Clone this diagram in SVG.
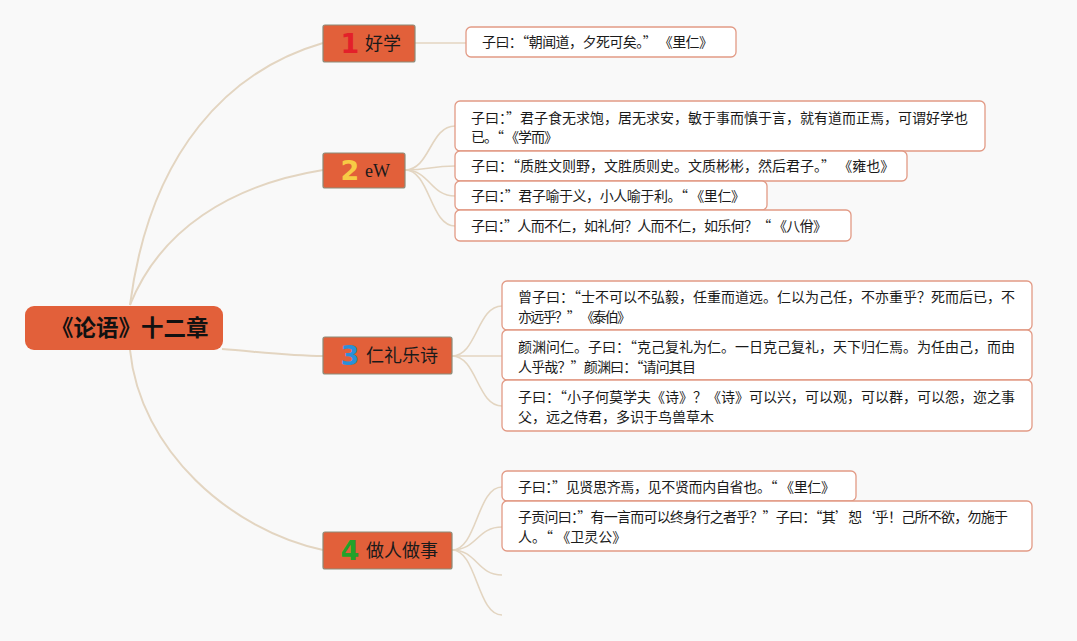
<svg xmlns="http://www.w3.org/2000/svg" width="1077" height="641" viewBox="0 0 1077 641">
<style>
.bg{fill:#f9f9f9}
.main{fill:none;stroke:#e3d5c1;stroke-width:2}
.sub{fill:none;stroke:#e3d5c1;stroke-width:1.6}
.root{fill:#e2603a}
.roott{font-family:"Noto Sans CJK SC","Noto Sans",sans-serif;font-size:22.5px;font-weight:bold;fill:#111}
.br{fill:#e2603a;stroke:#8c8b78;stroke-width:1.2}
.brt{font-family:"Noto Sans CJK SC","Noto Sans",sans-serif;font-size:18px;fill:#1a1a1a}
.num{font-family:"DejaVu Sans","Liberation Sans",sans-serif;font-size:27px;font-weight:bold;text-anchor:middle}
.leaf{fill:#ffffff;stroke:#e29a85;stroke-width:1.3}
.lt{font-family:"Noto Sans CJK SC","Noto Sans",sans-serif;font-size:14px;fill:#1a1a1a}
</style>
<rect class="bg" x="0" y="0" width="1077" height="641"/>
<g id="connectors">
<path class="main" d="M130,305 C150,150 230,70 323,43"/>
<path class="main" d="M130,305 C160,230 230,185 323,170"/>
<path class="main" d="M222,349 C260,352 290,356 323,356"/>
<path class="main" d="M130,350 C140,450 230,530 323,550"/>
<path class="sub" d="M415,43 L466,43"/>
<path class="sub" d="M405,170 C430,170 430,126 455,126"/>
<path class="sub" d="M405,170 C430,170 430,166 455,166"/>
<path class="sub" d="M405,170 C430,170 430,196 455,196"/>
<path class="sub" d="M405,170 C430,170 430,226 455,226"/>
<path class="sub" d="M452,356 C477,356 477,306 502,306"/>
<path class="sub" d="M452,356 L502,356"/>
<path class="sub" d="M452,356 C477,356 477,406 502,406"/>
<path class="sub" d="M452,550 C477,550 477,487 502,487"/>
<path class="sub" d="M452,550 C477,550 477,527 502,527"/>
<path class="sub" d="M452,550 C477,550 477,575 502,575"/>
<path class="sub" d="M452,550 C477,550 477,615 502,615"/>
</g>
<g id="root">
<rect class="root" x="25" y="306" width="198" height="44" rx="9"/>
<text class="roott" x="51" y="336">《论语》十二章</text>
</g>
<g id="b1">
<rect class="br" x="323" y="25" width="92" height="37" rx="2"/>
<text class="num" x="350" y="53" fill="#e3202a">1</text>
<text class="brt" x="365" y="50">好学</text>
</g>
<g id="b2">
<rect class="br" x="323" y="153" width="82" height="35" rx="2"/>
<text class="num" x="350" y="180" fill="#f7cb45">2</text>
<text x="365" y="177" style="font-family:'Liberation Serif',serif;font-size:18px;fill:#1a1a1a">eW</text>
</g>
<g id="b3">
<rect class="br" x="323" y="337" width="129" height="37" rx="2"/>
<text class="num" x="350" y="365" fill="#2a90d8">3</text>
<text class="brt" x="366" y="362">仁礼乐诗</text>
</g>
<g id="b4">
<rect class="br" x="323" y="532" width="129" height="37" rx="2"/>
<text class="num" x="350" y="560" fill="#23a12a">4</text>
<text class="brt" x="366" y="557">做人做事</text>
</g>
<g id="l1">
<rect class="leaf" x="466" y="27" width="270" height="30" rx="5"/>
<text class="lt" x="482" y="47" textLength="231">子曰：“朝闻道，夕死可矣。” 《里仁》</text>
</g>
<g id="l2a">
<rect class="leaf" x="455" y="101" width="530" height="50" rx="5"/>
<text class="lt" x="471" y="123">子曰：”君子食无求饱，居无求安，敏于事而慎于言，就有道而正焉，可谓好学也</text>
<text class="lt" x="471" y="142" textLength="87">已。“ 《学而》</text>
</g>
<g id="l2b">
<rect class="leaf" x="455" y="151" width="452" height="30" rx="5"/>
<text class="lt" x="471" y="171">子曰：“质胜文则野，文胜质则史。文质彬彬，然后君子。” 《雍也》</text>
</g>
<g id="l2c">
<rect class="leaf" x="455" y="181" width="312" height="29" rx="5"/>
<text class="lt" x="471" y="201" textLength="274">子曰：”君子喻于义，小人喻于利。“ 《里仁》</text>
</g>
<g id="l2d">
<rect class="leaf" x="455" y="210" width="396" height="31" rx="5"/>
<text class="lt" x="471" y="231" textLength="356">子曰：”人而不仁，如礼何？人而不仁，如乐何？“ 《八佾》</text>
</g>
<g id="l3a">
<rect class="leaf" x="502" y="281" width="530" height="49" rx="5"/>
<text class="lt" x="518" y="302">曾子曰：“士不可以不弘毅，任重而道远。仁以为己任，不亦重乎？死而后已，不</text>
<text class="lt" x="518" y="322" textLength="113">亦远乎？” 《泰伯》</text>
</g>
<g id="l3b">
<rect class="leaf" x="502" y="330" width="530" height="50" rx="5"/>
<text class="lt" x="518" y="352">颜渊问仁。子曰：“克己复礼为仁。一日克己复礼，天下归仁焉。为任由己，而由</text>
<text class="lt" x="518" y="372" textLength="178">人乎哉？”颜渊曰：“请问其目</text>
</g>
<g id="l3c">
<rect class="leaf" x="502" y="380" width="530" height="51" rx="5"/>
<text class="lt" x="518" y="402">子曰：“小子何莫学夫《诗》？《诗》可以兴，可以观，可以群，可以怨，迩之事</text>
<text class="lt" x="518" y="422">父，远之侍君，多识于鸟兽草木</text>
</g>
<g id="l4a">
<rect class="leaf" x="502" y="471" width="354" height="30" rx="5"/>
<text class="lt" x="518" y="492" textLength="317">子曰：”见贤思齐焉，见不贤而内自省也。“ 《里仁》</text>
</g>
<g id="l4b">
<rect class="leaf" x="502" y="501" width="530" height="50" rx="5"/>
<text class="lt" x="518" y="522" textLength="490">子贡问曰：”有一言而可以终身行之者乎？”子曰：“其’恕‘乎！己所不欲，勿施于</text>
<text class="lt" x="518" y="542">人。“ 《卫灵公》</text>
</g>
</svg>
